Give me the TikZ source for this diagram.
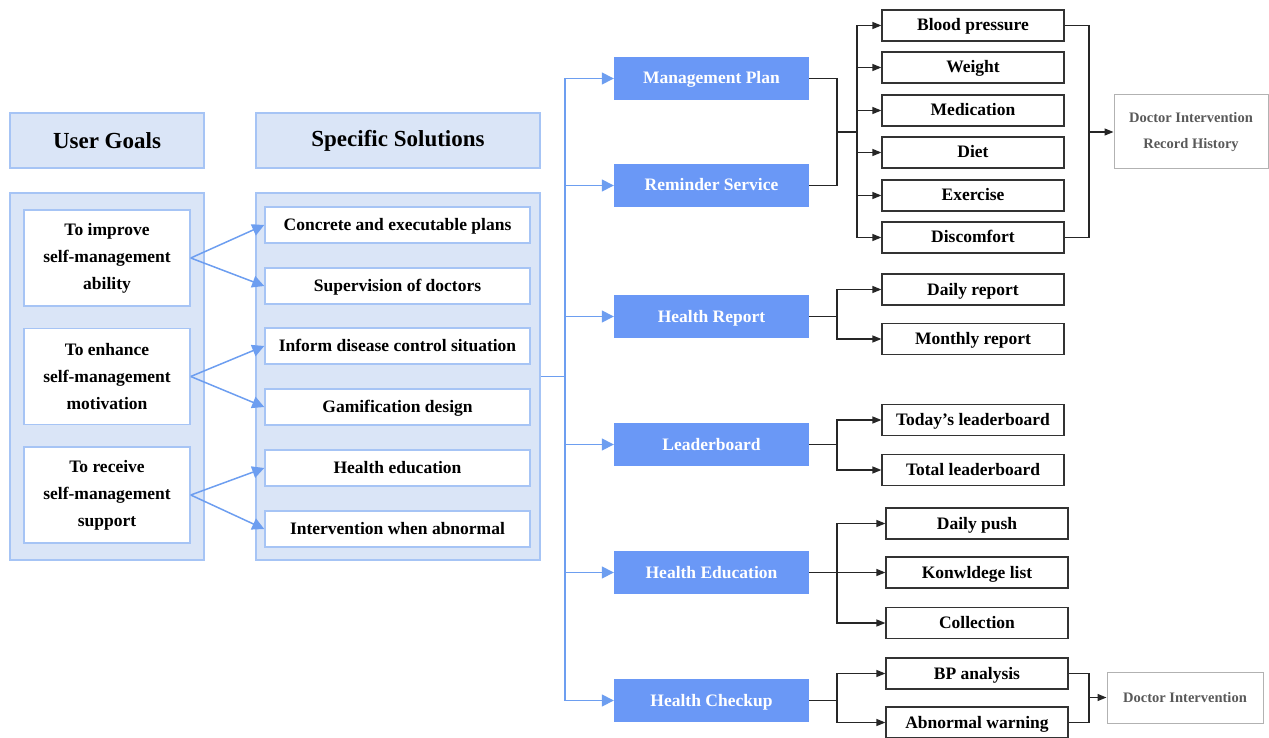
\documentclass[tikz,border=0pt]{standalone}
\usepackage{fontspec}
\setmainfont{Liberation Serif}
\usetikzlibrary{arrows.meta}
\definecolor{panelfill}{RGB}{218,229,247}
\definecolor{panelline}{RGB}{166,196,245}
\definecolor{modblue}{RGB}{106,152,246}
\definecolor{arrowblue}{RGB}{109,158,240}
\begin{document}
\begin{tikzpicture}[x=1pt,y=-1pt,line join=miter,
  font=\fontsize{17.5}{27}\selectfont\bfseries,
  panel/.style={draw=panelline,fill=panelfill,line width=1.5pt,inner sep=0pt},
  head/.style={panel,font=\fontsize{23}{27}\selectfont\bfseries},
  goal/.style={draw=panelline,fill=white,line width=1.5pt,minimum width=166pt,minimum height=96pt,align=center,inner sep=0pt},
  oneline/.style={inner sep=0pt,text height=12pt,text depth=1pt},
  sol/.style={oneline,draw=panelline,fill=white,line width=1.5pt,minimum width=265pt,minimum height=36pt},
  module/.style={oneline,fill=modblue,text=white,minimum width=195pt,minimum height=43pt},
  item/.style={oneline,draw=black!80,fill=white,line width=1.2pt,minimum width=182pt,minimum height=31pt},
  doc/.style={draw=black!30,line width=1pt,text=black!65,align=center,inner sep=0pt,font=\fontsize{14.5}{26}\selectfont\bfseries},
  blueline/.style={draw=arrowblue,line width=1.5pt},
  bluearr/.style={blueline,-{Triangle[width=12pt,length=12pt]}},
  link/.style={draw=black!85,line width=1.3pt},
  linkarr/.style={link,-{Triangle[width=7pt,length=9pt]}}]
  \useasboundingbox (0,0) rectangle (1269,738);

  \node (ug) [head,minimum width=194pt,minimum height=55pt] at (107,140.5) {User Goals};
  \node (ss) [head,minimum width=284pt,minimum height=55pt] at (398,140.5) {Specific Solutions};
  \node (gpanel) [panel,minimum width=194pt,minimum height=367pt] at (107,376.5) {};
  \node (spanel) [panel,minimum width=284pt,minimum height=367pt] at (398,376.5) {};

  \node (g1) [goal] at (107,258) {To improve\\self-management\\ability};
  \node (g2) [goal] at (107,376.5) {To enhance\\self-management\\motivation};
  \node (g3) [goal] at (107,495) {To receive\\self-management\\support};

  \node (s1) [sol] at (397.5,225) {Concrete and executable plans};
  \node (s2) [sol] at (397.5,286) {Supervision of doctors};
  \node (s3) [sol] at (397.5,346) {Inform disease control situation};
  \node (s4) [sol] at (397.5,407) {Gamification design};
  \node (s5) [sol] at (397.5,468) {Health education};
  \node (s6) [sol] at (397.5,529) {Intervention when abnormal};

  \draw[bluearr] (g1.east) -- (s1.west);
  \draw[bluearr] (g1.east) -- (s2.west);
  \draw[bluearr] (g2.east) -- (s3.west);
  \draw[bluearr] (g2.east) -- (s4.west);
  \draw[bluearr] (g3.east) -- (s5.west);
  \draw[bluearr] (g3.east) -- (s6.west);

  \node (mplan) [module] at (711.5,78.5) {Management Plan};
  \node (rserv) [module] at (711.5,185.5) {Reminder Service};
  \node (hrep) [module] at (711.5,316.5) {Health Report};
  \node (lboard) [module] at (711.5,444.5) {Leaderboard};
  \node (hedu) [module] at (711.5,572.5) {Health Education};
  \node (hcheck) [module] at (711.5,700.5) {Health Checkup};

  \coordinate (trunk) at (565,376.5);
  \draw[blueline] (spanel.east) -- (trunk);
  \foreach \m in {mplan,rserv,hrep,lboard,hedu,hcheck}
    \draw[bluearr] (trunk) |- (\m.west);

  \node (bp) [item] at (973,25.5) {Blood pressure};
  \node (wt) [item] at (973,67.5) {Weight};
  \node (med) [item] at (973,110.5) {Medication};
  \node (diet) [item] at (973,152.5) {Diet};
  \node (exer) [item] at (973,195.5) {Exercise};
  \node (disc) [item] at (973,237.5) {Discomfort};
  \node (dirh) [doc,minimum width=154pt,minimum height=74pt] at (1191,132) {Doctor Intervention\\Record History};

  \coordinate (j1) at (837,132);
  \coordinate (bus1) at (857,132);
  \coordinate (k1) at (1089,132);
  \draw[link] (mplan.east) -| (j1) |- (rserv.east);
  \draw[link] (j1) -- (bus1);
  \foreach \i in {bp,wt,med,diet,exer,disc}
    \draw[linkarr] (bus1) |- (\i.west);
  \draw[link] (bp.east) -| (k1) |- (disc.east);
  \draw[linkarr] (k1) -- (dirh.west);

  \node (drep) [item] at (973,289.5) {Daily report};
  \node (mrep) [item] at (973,339) {Monthly report};
  \coordinate (j3) at (837,316.5);
  \draw[link] (hrep.east) -- (j3);
  \draw[linkarr] (j3) |- (drep.west);
  \draw[linkarr] (j3) |- (mrep.west);

  \node (tlb) [item] at (973,420) {Today’s leaderboard};
  \node (alb) [item] at (973,470) {Total leaderboard};
  \coordinate (j4) at (837,444.5);
  \draw[link] (lboard.east) -- (j4);
  \draw[linkarr] (j4) |- (tlb.west);
  \draw[linkarr] (j4) |- (alb.west);

  \node (dpush) [item] at (977,523.5) {Daily push};
  \node (klist) [item] at (977,572.5) {Konwldege list};
  \node (coll) [item] at (977,623) {Collection};
  \coordinate (j5) at (837,572.5);
  \draw[link] (hedu.east) -- (j5);
  \draw[linkarr] (j5) |- (dpush.west);
  \draw[linkarr] (j5) -- (klist.west);
  \draw[linkarr] (j5) |- (coll.west);

  \node (bpa) [item] at (977,673.5) {BP analysis};
  \node (abw) [item] at (977,722.5) {Abnormal warning};
  \node (dint) [doc,minimum width=156pt,minimum height=51pt] at (1185,697.5) {Doctor Intervention};
  \coordinate (j6) at (837,700.5);
  \coordinate (k6) at (1089,697.5);
  \draw[link] (hcheck.east) -- (j6);
  \draw[linkarr] (j6) |- (bpa.west);
  \draw[linkarr] (j6) |- (abw.west);
  \draw[link] (bpa.east) -| (k6) |- (abw.east);
  \draw[linkarr] (k6) -- (dint.west);
\end{tikzpicture}
\end{document}
